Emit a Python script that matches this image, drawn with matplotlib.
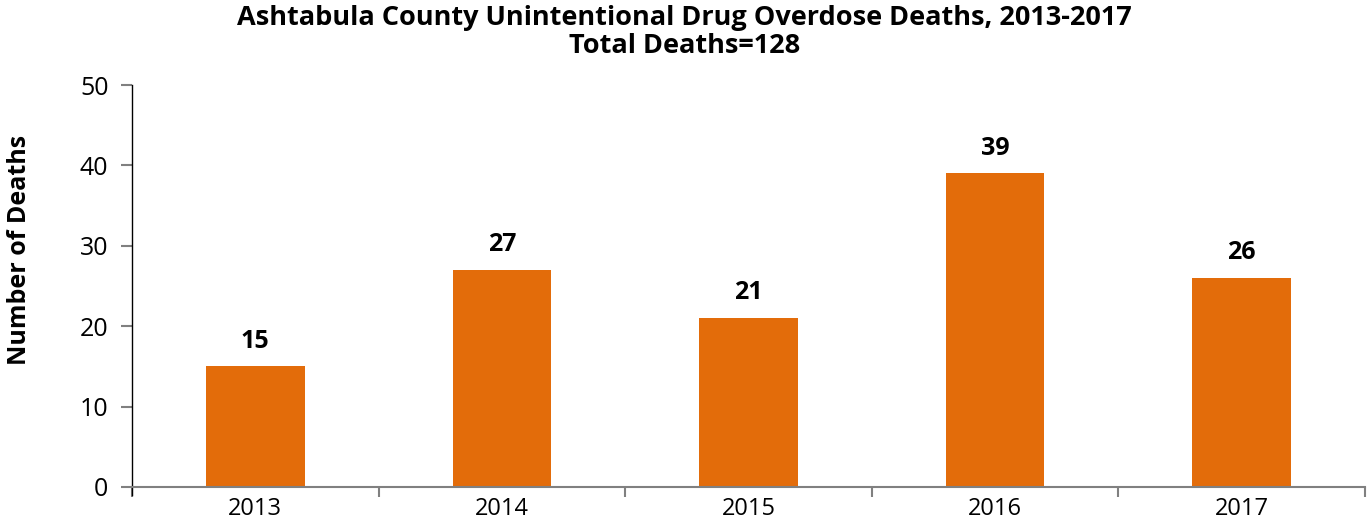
import matplotlib
matplotlib.use('Agg')
import matplotlib.pyplot as plt
import numpy as np

years = ['2013', '2014', '2015', '2016', '2017']
deaths = [15, 27, 21, 39, 26]
bar_color = '#E36C0A'

plt.rcParams['font.family'] = ['Open Sans', 'DejaVu Sans']

fig = plt.figure(figsize=(13.69, 5.25), dpi=100)
ax = fig.add_axes([132/1369, 38/525, (1365-132)/1369, (487-85)/525])

x = np.arange(len(years))
bars = ax.bar(x, deaths, width=0.4, color=bar_color, zorder=2)
for xi, v in zip(x, deaths):
    ax.text(xi, v + 1.6, str(v), ha='center', va='bottom', fontsize=18, fontweight='bold')

ax.set_xlim(-0.5, len(years) - 0.5)
ax.set_ylim(0, 50)
ax.set_yticks(np.arange(0, 51, 10))
ax.set_xticks(x)
ax.set_xticklabels(years)
ax.set_xticks(np.arange(-0.5, len(years), 1), minor=True)
ax.tick_params(axis='x', which='major', length=0, labelsize=17, pad=7)
ax.tick_params(axis='x', which='minor', length=7, color='#808080', width=1.5)
ax.tick_params(axis='y', length=8, color='#808080', width=1.5, labelsize=18, pad=9)

for s in ['top', 'right']:
    ax.spines[s].set_visible(False)
ax.spines['bottom'].set_color('#808080')
ax.spines['bottom'].set_linewidth(1.5)
ax.spines['left'].set_color('black')
ax.spines['left'].set_linewidth(1)
ax.spines['left'].set_bounds(-1, 50)
ax.set_ylim(0, 50)
ax.spines['left'].set_clip_on(False)

ax.set_ylabel('Number of Deaths', fontsize=18, fontweight='bold')
ax.yaxis.set_label_coords(-0.081, 0.59)
fig.text(0.5, 0.99, 'Ashtabula County Unintentional Drug Overdose Deaths, 2013-2017\nTotal Deaths=128',
         ha='center', va='top', fontsize=19.5, fontweight='bold', linespacing=1.1)

fig.savefig('out.png', dpi=100)
